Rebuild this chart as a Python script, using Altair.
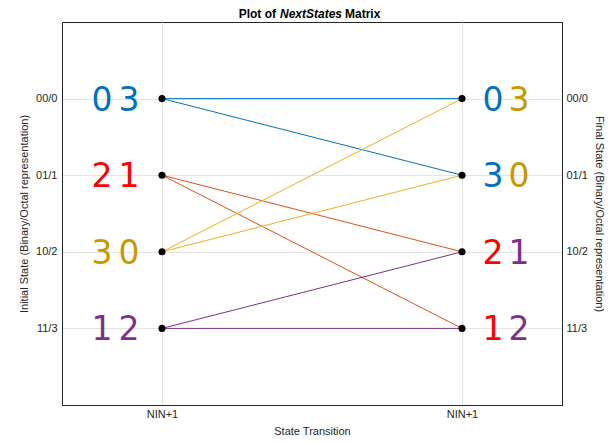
import altair as alt
import pandas as pd

# ---- data ----
states = ["00/0", "01/1", "10/2", "11/3"]
x_labels = ["NIN+1", "NIN+1"]
edge_from = [0, 0, 1, 1, 2, 2, 3, 3]
edge_to = [0, 1, 2, 3, 0, 1, 2, 3]
state_colors = ["#0072BD", "#D95319", "#EDB120", "#7E2F8E"]
left_digits = [["0", "3"], ["2", "1"], ["3", "0"], ["1", "2"]]
left_digit_colors = [["#0072BD", "#0072BD"], ["#FF0000", "#FF0000"],
                     ["#C99700", "#C99700"], ["#7E2F8E", "#7E2F8E"]]
right_digits = [["0", "3"], ["3", "0"], ["2", "1"], ["1", "2"]]
right_digit_colors = [["#0072BD", "#C99700"], ["#0072BD", "#C99700"],
                      ["#FF0000", "#7E2F8E"], ["#FF0000", "#7E2F8E"]]
title_parts = ["Plot of", "NextStates", "Matrix"]

edges = pd.DataFrame({
    "x0": [1] * len(edge_from),
    "x1": [2] * len(edge_from),
    "y0": edge_from,
    "y1": edge_to,
    "color": [state_colors[i] for i in edge_from],
})
nodes = pd.DataFrame({
    "x": [1] * 4 + [2] * 4,
    "y": list(range(4)) + list(range(4)),
})
rows = []
for i in range(4):
    for k in range(2):
        rows.append({"side": "L", "slot": k, "x": 1, "y": i,
                     "d": left_digits[i][k], "c": left_digit_colors[i][k]})
        rows.append({"side": "R", "slot": k, "x": 2, "y": i,
                     "d": right_digits[i][k], "c": right_digit_colors[i][k]})
digits = pd.DataFrame(rows)

FONT = "Liberation Sans"
xscale = alt.Scale(domain=[2 / 3, 7 / 3], nice=False, zero=False)
yscale = alt.Scale(domain=[-1, 4], reverse=True, nice=False, zero=False)

x_axis = alt.Axis(values=[1, 2], labelExpr=f"{x_labels}[datum.value - 1]",
                  title="State Transition", grid=True, ticks=False,
                  labelPadding=3, titlePadding=6, gridColor="#E3E3E3")
y_left = alt.Axis(values=[0, 1, 2, 3], labelExpr=f"{states}[datum.value]",
                  title="Initial State (Binary/Octal representation)",
                  grid=True, ticks=False, labelPadding=5, titlePadding=6,
                  gridColor="#E3E3E3", orient="left")
y_right = alt.Axis(values=[0, 1, 2, 3], labelExpr=f"{states}[datum.value]",
                   title="Final State (Binary/Octal representation)",
                   grid=False, ticks=False, labelPadding=4, titlePadding=6,
                   orient="right")

rules = alt.Chart(edges).mark_rule(strokeWidth=1).encode(
    x=alt.X("x0:Q", scale=xscale, axis=x_axis),
    x2="x1",
    y=alt.Y("y0:Q", scale=yscale, axis=y_left),
    y2="y1",
    color=alt.Color("color:N", scale=None),
)

points = alt.Chart(nodes).mark_point(filled=True, color="black", size=50, opacity=1).encode(
    x=alt.X("x:Q", scale=xscale, axis=x_axis),
    y=alt.Y("y:Q", scale=yscale, axis=y_right),
)

def digit_layer(side, slot, dx):
    return alt.Chart(digits).transform_filter(
        (alt.datum.side == side) & (alt.datum.slot == slot)
    ).mark_text(font="DejaVu Sans", fontSize=33, align="center",
                baseline="middle", dx=dx, dy=2).encode(
        x=alt.X("x:Q", scale=xscale, axis=x_axis),
        y=alt.Y("y:Q", scale=yscale, axis=y_left),
        text="d:N",
        color=alt.Color("c:N", scale=None),
    )

title_df = pd.DataFrame({"t": title_parts})
def title_layer(i, xpos, style, align):
    return alt.Chart(title_df).transform_filter(
        alt.datum.t == title_parts[i]
    ).mark_text(font=FONT, fontSize=12, fontWeight="bold", fontStyle=style,
                align=align, baseline="middle", color="black").encode(
        x=alt.value(xpos), y=alt.value(-8), text="t:N")

left_layers = alt.layer(
    rules,
    digit_layer("L", 0, -60), digit_layer("L", 1, -33),
    digit_layer("R", 0, 31), digit_layer("R", 1, 57),
    title_layer(0, 214, "normal", "right"), title_layer(1, 249, "italic", "center"),
    title_layer(2, 283, "normal", "left"),
)

chart = alt.layer(left_layers, points).resolve_scale(y="independent").properties(
    width=500, height=383,
    autosize=alt.AutoSizeParams(type="none"),
    padding={"left": 54, "top": 14, "right": 46, "bottom": 30},
).configure_view(stroke="#262626", strokeWidth=1).configure_axis(
    labelFont=FONT, titleFont=FONT, labelFontSize=11, titleFontSize=11,
    titleFontWeight="normal", labelColor="#262626", titleColor="#262626",
    domainColor="#262626", domainWidth=1,
)

chart.save("out.html", embed_options={"renderer": "svg", "actions": False})
